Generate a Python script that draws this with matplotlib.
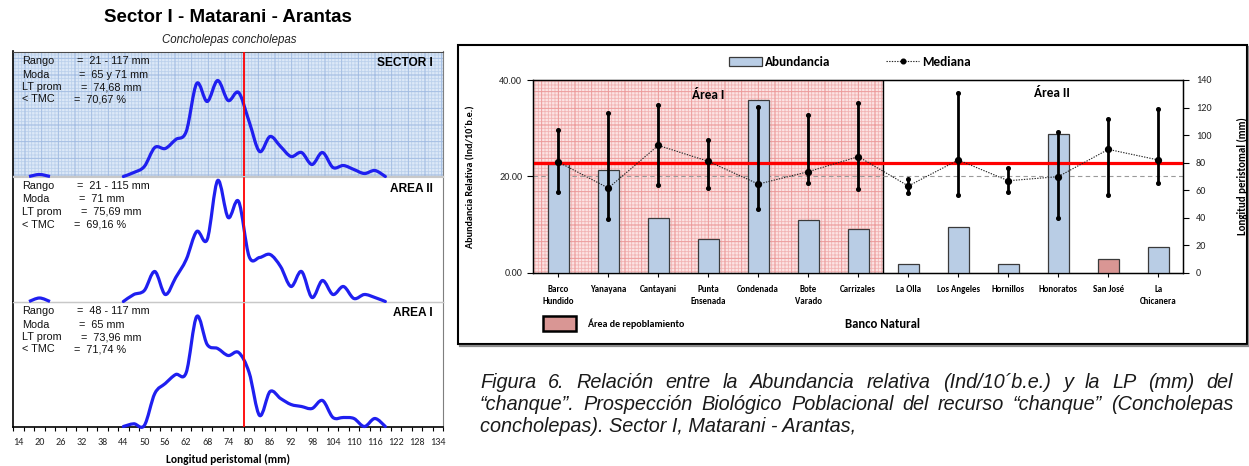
import matplotlib
matplotlib.use("Agg")
import matplotlib.pyplot as plt
import numpy as np
from matplotlib import font_manager
from matplotlib.lines import Line2D
from matplotlib.patches import PathPatch, Rectangle
from matplotlib.path import Path

W, H = 1249, 466

# ---- left chart: length frequency (%) by 3 mm class ----
low_classes = [17, 20, 23]
classes = [44, 47, 50, 53, 56, 59, 62, 65, 68, 71, 74, 77, 80,
           83, 86, 89, 92, 95, 98, 101, 104, 107, 110, 113, 116, 119]
sector_low = [0.0, 0.2, 0.0]
sector = [0.0, 0.4, 1.0, 2.9, 2.8, 3.7, 4.5, 9.3, 7.5, 9.6, 7.6, 8.4, 5.5,
          2.5, 4.0, 3.0, 2.0, 2.4, 1.2, 2.4, 0.9, 1.1, 0.7, 0.3, 0.6, 0.0]
area2_low = [0.0, 0.35, 0.0]
area2 = [0.0, 0.7, 1.1, 3.0, 0.7, 2.4, 4.2, 7.0, 6.2, 12.1, 8.4, 10.0, 4.5,
         4.4, 4.7, 3.5, 1.5, 3.0, 0.4, 2.1, 0.7, 1.5, 0.3, 0.7, 0.4, 0.0]
area1 = [0.0, 0.27, 0.1, 3.3, 4.3, 5.2, 5.4, 11.0, 8.2, 7.8, 7.1, 7.4, 5.4,
         1.1, 3.5, 2.8, 2.2, 2.0, 1.8, 2.6, 0.9, 0.9, 0.8, 0.0, 0.8, 0.0]
tmc_mm = 78.5
panel_names = ["SECTOR I", "AREA II", "AREA I"]
panel_stats = [
    ["21 - 117 mm", "65 y 71 mm", "74,68 mm", "70,67 %"],
    ["21 - 115 mm", "71 mm", "75,69 mm", "69,16 %"],
    ["48 - 117 mm", "65 mm", "73,96 mm", "71,74 %"],
]
stat_labels = ["Rango", "Moda", "LT prom", "< TMC"]

# ---- right chart: abundance and peristomal length by bank ----
sites = ["Barco\nHundido", "Yanayana", "Cantayani", "Punta\nEnsenada", "Condenada",
         "Bote\nVarado", "Carrizales", "La Olla", "Los Angeles", "Hornillos",
         "Honoratos", "San José", "La\nChicanera"]
abund = [22.5, 21.4, 11.4, 6.9, 35.8, 10.9, 9.0, 1.9, 9.4, 1.9, 28.8, 2.8, 5.4]
lp_med = [80.4, 61.5, 92.5, 80.9, 64.4, 73.4, 84.3, 63.0, 81.9, 66.8, 69.8, 89.6, 81.9]
lp_max = [103.7, 115.8, 121.6, 96.4, 120.6, 114.6, 123.0, 67.8, 130.3, 76.0, 102.2, 111.9, 118.7]
lp_min = [58.9, 38.8, 63.7, 61.8, 46.0, 64.9, 60.5, 57.6, 56.7, 58.6, 39.5, 56.7, 65.4]
repoblamiento = ["San José"]
n_area1 = 7
tmc_line = 80

caption = [
    "Figura 6.  Relación entre la Abundancia relativa (Ind/10´b.e.) y la LP (mm) del",
    "“chanque”. Prospección Biológico Poblacional del recurso “chanque” (Concholepas",
    "concholepas). Sector I, Matarani - Arantas,",
]


def has_font(name):
    try:
        font_manager.findfont(font_manager.FontProperties(family=name),
                              fallback_to_default=False)
        return True
    except Exception:
        return False


ARIAL = "Liberation Sans"
CAL = "Carlito" if has_font("Carlito") else "Lato"
NARROW = "Liberation Sans Narrow" if has_font("Liberation Sans Narrow") else ARIAL

plt.rcParams["hatch.linewidth"] = 0.6
fig = plt.figure(figsize=(W / 100, H / 100), dpi=100)
renderer = fig.canvas.get_renderer()


def fx(x):
    return x / W


def fy(y):
    return 1 - y / H


def smooth_path(xs, ys):
    # excel-like smoothed line (catmull-rom as cubic bezier)
    p = np.column_stack([xs, ys]).astype(float)
    n = len(p)
    verts, codes = [p[0]], [Path.MOVETO]
    for i in range(n - 1):
        p0 = p[i - 1] if i > 0 else p[i]
        p3 = p[i + 2] if i + 2 < n else p[i + 1]
        verts += [p[i] + (p[i + 1] - p0) / 6, p[i + 1] - (p3 - p[i]) / 6, p[i + 1]]
        codes += [Path.CURVE4] * 3
    return Path(verts, codes)


def fit_width(t, target):
    w = t.get_window_extent(renderer).width
    t.set_fontsize(t.get_fontsize() * target / w)


# ================= left chart =================
L, R = 13.3, 443.0
tops = [51.5, 176.5, 301.5]
ph = 125.0
series = [(sector_low, sector), (area2_low, area2), (None, area1)]
for k, top in enumerate(tops):
    ax = fig.add_axes([fx(L), fy(top + ph), (R - L) / W, ph / H])
    ax.set_zorder(5 - k)
    ax.set_xlim(12.5, 135.5)
    ax.set_ylim(0, 12.5)
    ax.set_yticks([])
    ax.patch.set_visible(False)
    if k == 0:
        ax.add_patch(Rectangle((0, 0), 1, 1, transform=ax.transAxes,
                               facecolor="#dce8f7", edgecolor="none", zorder=0.1))
        ax.add_patch(Rectangle((0, 0), 1, 1, transform=ax.transAxes, facecolor="none",
                               edgecolor="#bcd1ec", hatch="+++++", lw=0, zorder=0.2))
        ax.add_patch(Rectangle((0, 0), 1, 1, transform=ax.transAxes, facecolor="none",
                               edgecolor="#a2bce2", hatch="+", lw=0, zorder=0.3))
    low, main = series[k]
    if low is not None:
        ax.add_patch(PathPatch(smooth_path(low_classes, low), fill=False,
                               edgecolor="#1f1ff0", lw=2.3, clip_on=False, zorder=4))
    ax.add_patch(PathPatch(smooth_path(classes, main), fill=False, edgecolor="#1f1ff0",
                           lw=2.3, capstyle="round", joinstyle="round",
                           clip_on=False, zorder=4))
    ax.axvline(tmc_mm, color="#ff0000", lw=1.3, zorder=5)
    ax.spines["left"].set_color("black")
    ax.spines["left"].set_linewidth(1.2)
    ax.spines["right"].set_color("#7f7f7f")
    ax.spines["top"].set_color("#4a4a4a" if k == 0 else "#c8c8c8")
    ax.spines["bottom"].set_color("black" if k == 2 else "#c8c8c8")
    ax.spines["bottom"].set_linewidth(1.2 if k == 2 else 1.0)
    if k < 2:
        ax.set_xticks([])
    else:
        ax.set_xticks(np.arange(14, 135, 6))
        ax.set_xticklabels([str(v) for v in range(14, 135, 6)], fontsize=7.3,
                           family=CAL, color="#262626")
        ax.set_xticks(np.arange(12.5, 136, 3), minor=True)
        ax.tick_params(axis="x", which="major", length=0, pad=8.5)
        ax.tick_params(axis="x", which="minor", length=3, width=0.8, direction="out")
    # stats block
    eq_x = [77, 79, 81, 74]
    offs = [10, 23, 35.5, 48]
    for j in range(4):
        fig.text(fx(22), fy(top + offs[j]), stat_labels[j], fontsize=7.8,
                 family=ARIAL, va="center", ha="left", color="#111111", zorder=20)
        fig.text(fx(eq_x[j]), fy(top + offs[j]), "=  " + panel_stats[k][j],
                 fontsize=7.8, family=ARIAL, va="center", ha="left", color="#111111",
                 zorder=20)
    fig.text(fx(433), fy(top + 12), panel_names[k], fontsize=8.6, family=ARIAL,
             weight="bold", ha="right", va="center", zorder=20)

t = fig.text(fx(228), fy(18), "Sector I - Matarani - Arantas", fontsize=12,
             family=ARIAL, weight="bold", ha="center", va="center")
fit_width(t, 248)
t = fig.text(fx(229), fy(39.5), "Concholepas concholepas", fontsize=7.5,
             family=ARIAL, style="italic", ha="center", va="center", color="#222222")
fit_width(t, 135)
t = fig.text(fx(228), fy(459), "Longitud peristomal (mm)", fontsize=7,
             family=CAL, weight="bold", ha="center", va="center")
fit_width(t, 123)

# ================= right chart =================
pl, pr, pt, pb = 533.3, 1183.3, 80.0, 272.7
ax = fig.add_axes([fx(pl), fy(pb), (pr - pl) / W, (pb - pt) / H])
x = np.arange(len(sites))
ax.set_xlim(-0.5, len(sites) - 0.5)
ax.set_ylim(0, 40)
ax.axvspan(-0.5, n_area1 - 0.5, facecolor="#fce3e3", edgecolor="none", zorder=0.1)
ax.add_patch(Rectangle((-0.5, 0), n_area1, 40, facecolor="none", edgecolor="#f2b4b4",
                       hatch="+++++", lw=0, zorder=0.2))
ax.add_patch(Rectangle((-0.5, 0), n_area1, 40, facecolor="none", edgecolor="#ec9a9a",
                       hatch="+", lw=0, zorder=0.3))
ax.axvline(n_area1 - 0.5, color="black", lw=1.0, zorder=1)
ax.axhline(20, color="#9a9a9a", lw=0.8, ls=(0, (4, 3)), zorder=1)
names = [s.replace("\n", " ") for s in sites]
colors = ["#d99694" if n in repoblamiento else "#b9cde5" for n in names]
bars = ax.bar(x, abund, width=0.42, color=colors, edgecolor="#3a3a3a", lw=0.9,
              zorder=3, label="Abundancia")
ax.set_yticks([0, 20, 40])
ax.set_yticklabels(["0.00", "20.00", "40.00"], fontsize=7.3, family=CAL, color="#262626")
ax.set_xticks(x)
ax.set_xticklabels(sites, fontsize=6.4, family=CAL, weight="bold", linespacing=1.35)
ax.tick_params(axis="x", length=3, pad=6, width=0.8)
ax.tick_params(axis="y", length=4, pad=4, width=0.8)
for s in ax.spines.values():
    s.set_linewidth(1.0)
ax.set_ylabel("Abundancia Relativa (Ind/10´b.e.)", fontsize=7.3, family=CAL,
              weight="bold")
ax.yaxis.set_label_coords((475 - pl) / (pr - pl), 0.5)

ax2 = ax.twinx()
ax2.set_ylim(0, 140)
ax2.set_yticks(np.arange(0, 141, 20))
ax2.set_yticklabels([str(v) for v in range(0, 141, 20)], fontsize=7.3, family=CAL,
                    color="#262626")
ax2.tick_params(axis="y", length=4, pad=5, width=0.8)
ax2.axhline(tmc_line, color="#ff0000", lw=2.3, zorder=2)
ax2.vlines(x, lp_min, lp_max, color="black", lw=2.0, zorder=4)
ax2.plot(x, lp_min, "o", color="black", ms=2.6, zorder=4)
ax2.plot(x, lp_max, "o", color="black", ms=2.6, zorder=4)
med_line, = ax2.plot(x, lp_med, ls=(0, (1.2, 1.2)), lw=0.8, color="#222222",
                     marker="o", ms=4.2, mfc="black", mec="black", zorder=5,
                     label="Mediana")
ax2.set_ylabel("Longitud peristomal (mm)", fontsize=7.8, family=CAL, weight="bold",
               rotation=90)
ax2.yaxis.set_label_coords((1237 - pl) / (pr - pl), 0.5)

ax.text(3.0, (pb - 95) / (pb - pt), "Área I", transform=ax.get_xaxis_transform(),
        fontsize=9.5, family=CAL, weight="bold", ha="center", va="center", zorder=6)
ax.text(9.87, (pb - 93) / (pb - pt), "Área II", transform=ax.get_xaxis_transform(),
        fontsize=9.5, family=CAL, weight="bold", ha="center", va="center", zorder=6)

fig.legend([bars, med_line], ["Abundancia", "Mediana"], loc="center",
           bbox_to_anchor=(fx(850), fy(62)), ncol=2, frameon=False,
           prop={"family": CAL, "weight": "bold", "size": 9.5}, handlelength=2.5,
           handletextpad=0.25, columnspacing=4.2, numpoints=1, markerscale=0.8)

fig.patches.append(Rectangle((fx(543), fy(331)), 33 / W, 15 / H, transform=fig.transFigure,
                             facecolor="#d99694", edgecolor="black", lw=1.8))
fig.text(fx(587.5), fy(323.5), "Área de repoblamiento", fontsize=7.2, family=CAL,
         weight="bold", va="center", ha="left")
fig.text(fx(883), fy(323.5), "Banco Natural", fontsize=9.2, family=CAL,
         weight="bold", va="center", ha="center")

# outer frame with shadow
fig.lines.append(Line2D([fx(460), fx(1248.5), fx(1248.5)], [fy(345.5), fy(345.5), fy(47)],
                        transform=fig.transFigure, color="#8c8c8c", lw=1.6))
fig.patches.append(Rectangle((fx(457.5), fy(343.5)), (1246.5 - 457.5) / W, (343.5 - 45) / H,
                             transform=fig.transFigure, facecolor="none",
                             edgecolor="black", lw=1.5))

# ================= caption =================
cx0, cx1 = 480, 1233
ys = [383, 405, 427]
t3 = fig.text(fx(cx0), fy(ys[2]), caption[2], fontsize=11, family=NARROW,
              style="italic", va="center", ha="left", color="#1a1a1a")
fit_width(t3, 376)
csize = t3.get_fontsize()
for line, y in zip(caption[:2], ys[:2]):
    words = line.split()
    texts = [fig.text(0, fy(y), w, fontsize=csize, family=NARROW, style="italic",
                      va="center", ha="left", color="#1a1a1a") for w in words]
    widths = [tt.get_window_extent(renderer).width for tt in texts]
    gap = (cx1 - cx0 - sum(widths)) / (len(words) - 1)
    xp = cx0
    for tt, w in zip(texts, widths):
        tt.set_x(fx(xp))
        xp += w + gap

fig.savefig("out.png", dpi=100)
